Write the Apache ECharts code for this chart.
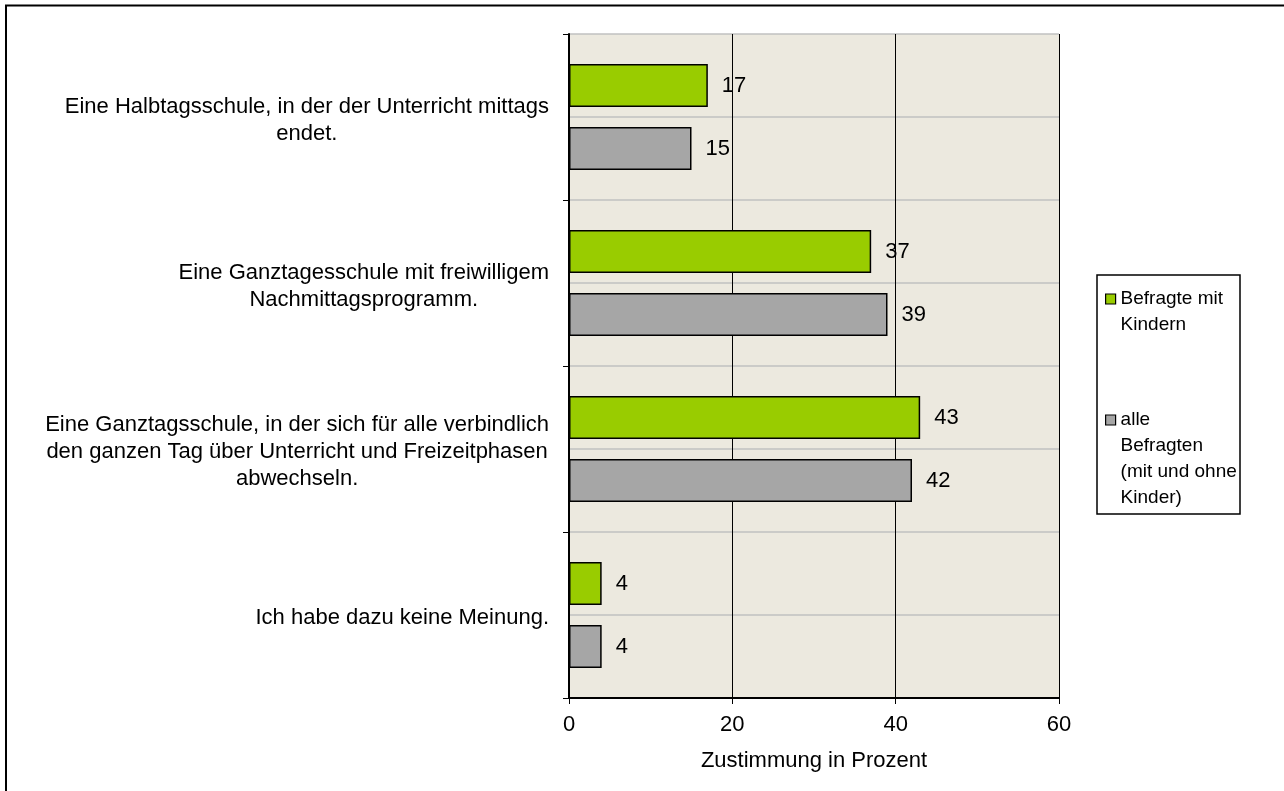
<!DOCTYPE html>
<html>
<head>
<meta charset="utf-8">
<script src="https://cdn.jsdelivr.net/npm/echarts@6/dist/echarts.min.js"></script>
<style>
html,body{margin:0;padding:0;background:#fff;}
#c{width:1284px;height:791px;}
</style>
</head>
<body>
<div id="c"></div>
<script>
const categories = [
  "Eine Halbtagsschule, in der der Unterricht mittags\nendet.",
  "Eine Ganztagesschule mit freiwilligem\nNachmittagsprogramm.",
  "Eine Ganztagsschule, in der sich für alle verbindlich\nden ganzen Tag über Unterricht und Freizeitphasen\nabwechseln.",
  "Ich habe dazu keine Meinung."
];
const seriesNames = ["Befragte mit Kindern", "alle Befragten (mit und ohne Kinder)"];
const legendLines = [["Befragte mit", "Kindern"], ["alle", "Befragten", "(mit und ohne", "Kinder)"]];
const withChildren = [17, 37, 43, 4];
const allRespondents = [15, 39, 42, 4];
const xTicks = [0, 20, 40, 60];
const axisTitle = "Zustimmung in Prozent";

const FONT = "Liberation Sans, Arial, sans-serif";
const FS = 22;
const LFS = 19;
const LH = 26;
const chart = echarts.init(document.getElementById('c'), null, {renderer: 'canvas'});

// legend text: blank lines prepended so the first real line sits level with the icon
function legendText(lines) {
  const pad = [];
  for (let i = 1; i < lines.length; i++) pad.push('\u00a0');
  return pad.concat(lines).join('\n');
}
function legendBlock(idx, top) {
  return {
    orient: 'vertical', left: 1105, top: top, padding: 0,
    itemWidth: 10, itemHeight: 10, icon: 'rect',
    itemStyle: {borderColor: '#000', borderWidth: 1.2},
    textStyle: {fontSize: LFS, lineHeight: LH, color: '#000', fontFamily: FONT},
    formatter: function () { return legendText(legendLines[idx]); },
    data: [seriesNames[idx]]
  };
}

const option = {
  animation: false,
  backgroundColor: '#ffffff',
  textStyle: {fontFamily: FONT},
  grid: {
    left: 569, right: 225, top: 34, bottom: 93,
    show: true, backgroundColor: '#ECE9DF', borderWidth: 0
  },
  xAxis: {
    type: 'value', min: xTicks[0], max: xTicks[xTicks.length - 1], interval: 20,
    name: axisTitle, nameLocation: 'middle', nameGap: 52,
    nameTextStyle: {fontSize: FS, color: '#000', fontFamily: FONT},
    axisLine: {show: true, onZero: false, lineStyle: {color: '#000', width: 2}},
    axisTick: {show: true, length: 6, lineStyle: {color: '#000', width: 1}},
    axisLabel: {fontSize: FS, color: '#000', margin: 16, fontFamily: FONT},
    splitLine: {show: true, lineStyle: {color: '#000', width: 1}}
  },
  yAxis: [{
    type: 'category', data: categories, inverse: true,
    axisLine: {show: true, lineStyle: {color: '#000', width: 2}},
    axisTick: {show: true, length: 6, lineStyle: {color: '#000', width: 1}},
    axisLabel: {
      fontSize: FS, color: '#000', margin: 20, fontFamily: FONT,
      padding: [6, 0, 0, 0],
      formatter: function (v) {
        return v.split('\n').map(function (s) { return '{a|' + s + '}'; }).join('\n');
      },
      rich: {a: {align: 'center', fontSize: FS, lineHeight: 27, fontFamily: FONT, color: '#000'}}
    },
    splitLine: {show: false}
  }, {
    type: 'value', min: 0, max: 8, interval: 1, position: 'right',
    axisLine: {show: false}, axisTick: {show: false}, axisLabel: {show: false},
    splitLine: {show: true, lineStyle: {color: '#C0C0C0', width: 1.5}}
  }],
  legend: [legendBlock(0, 260), legendBlock(1, 329)],
  graphic: [
    {type: 'rect', silent: true,
     shape: {x: 6, y: 5.5, width: 1300, height: 800},
     style: {fill: 'none', stroke: '#000', lineWidth: 2}},
    {type: 'rect', silent: true, z: -1,
     shape: {x: 1097, y: 275, width: 143, height: 239},
     style: {fill: '#fff', stroke: '#000', lineWidth: 1.5}}
  ],
  series: [{
    name: seriesNames[0], type: 'bar', data: withChildren,
    barCategoryGap: '36%', barGap: '46%',
    itemStyle: {color: '#99CC00', borderColor: '#000', borderWidth: 1.5},
    label: {show: true, position: 'right', distance: 14, fontSize: FS, color: '#000', fontFamily: FONT}
  }, {
    name: seriesNames[1], type: 'bar', data: allRespondents,
    barCategoryGap: '36%', barGap: '46%',
    itemStyle: {color: '#A6A6A6', borderColor: '#000', borderWidth: 1.5},
    label: {show: true, position: 'right', distance: 14, fontSize: FS, color: '#000', fontFamily: FONT}
  }]
};
chart.setOption(option);
</script>
</body>
</html>
